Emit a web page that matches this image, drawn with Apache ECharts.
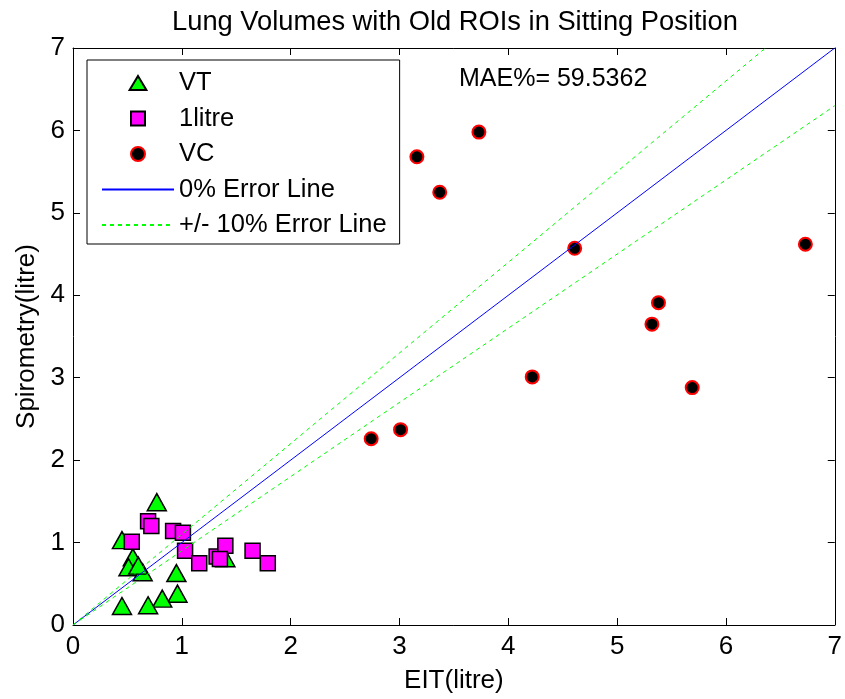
<!DOCTYPE html>
<html>
<head>
<meta charset="utf-8">
<script src="https://cdn.jsdelivr.net/npm/echarts@6/dist/echarts.min.js"></script>
<style>html,body{margin:0;padding:0;background:#fff;}#c{width:845px;height:699px;}</style>
</head>
<body>
<div id="c"></div>
<script>
const titleText = 'Lung Volumes with Old ROIs in Sitting Position';
const xName = 'EIT(litre)';
const yName = 'Spirometry(litre)';
const maeText = 'MAE%= 59.5362';

const vtData = [
  [0.77, 1.49], [0.45, 1.03], [0.55, 0.82], [0.51, 0.70], [0.64, 0.64],
  [0.60, 0.72], [0.95, 0.63], [0.96, 0.38], [0.82, 0.32], [0.69, 0.24],
  [0.45, 0.23], [1.40, 0.81]
];
const litreData = [
  [0.69, 1.26], [0.72, 1.20], [0.92, 1.14], [1.01, 1.12], [0.54, 1.01],
  [1.03, 0.90], [1.16, 0.75], [1.32, 0.83], [1.40, 0.96], [1.65, 0.90],
  [1.79, 0.75], [1.35, 0.80]
];
const vcData = [
  [3.73, 5.98], [3.16, 5.68], [3.37, 5.25], [4.61, 4.57], [5.38, 3.91],
  [5.32, 3.65], [4.22, 3.01], [5.69, 2.88], [3.01, 2.37], [2.74, 2.26],
  [6.73, 4.62]
];
const zeroLine = [[0, 0], [7, 7]];
const plus10Line = [[0, 0], [7, 7.7]];
const minus10Line = [[0, 0], [7, 6.3]];

const FONT = '"Liberation Sans", Arial, sans-serif';
const chart = echarts.init(document.getElementById('c'));

function axisBase(extra) {
  return Object.assign({
    type: 'value', min: 0, max: 7, interval: 1,
    axisLine: { show: true, onZero: false, lineStyle: { color: '#000', width: 1 } },
    axisTick: { show: true, inside: true, length: 7, lineStyle: { color: '#000' } },
    splitLine: { show: false }
  }, extra);
}

const hideDot = { color: 'rgba(0,0,0,0)', borderColor: 'rgba(0,0,0,0)', borderWidth: 0 };

chart.setOption({
  animation: false,
  backgroundColor: '#fff',
  title: {
    text: titleText, left: 450, top: 4, textAlign: 'center',
    textStyle: { fontFamily: FONT, fontSize: 27.3, fontWeight: 'normal', color: '#000' }
  },
  grid: { left: 73, right: 6, top: 48, bottom: 73, containLabel: false },
  xAxis: [
    axisBase({
      position: 'bottom', name: xName, nameLocation: 'middle', nameGap: 43,
      nameTextStyle: { fontFamily: FONT, fontSize: 26, color: '#000' },
      axisLabel: { fontFamily: FONT, fontSize: 26, color: '#000', margin: 9 }
    }),
    axisBase({ position: 'top', axisLabel: { show: false } })
  ],
  yAxis: [
    axisBase({
      position: 'left', name: yName, nameLocation: 'middle', nameGap: 30,
      nameTextStyle: { fontFamily: FONT, fontSize: 26, color: '#000' },
      axisLabel: { fontFamily: FONT, fontSize: 26, color: '#000', margin: 8 }
    }),
    axisBase({ position: 'right', axisLabel: { show: false } })
  ],
  legend: {
    orient: 'vertical', left: 87, top: 60,
    padding: [10, 13, 6, 14],
    itemWidth: 72, itemHeight: 14, itemGap: 9.5,
    borderColor: '#000', borderWidth: 1, backgroundColor: '#fff',
    symbolKeepAspect: true,
    textStyle: { fontFamily: FONT, fontSize: 25.5, color: '#000' },
    data: [
      { name: 'VT', icon: 'path://M9,0L18,15L0,15Z' },
      { name: '1litre', icon: 'path://M0,0L14,0L14,14L0,14Z' },
      { name: 'VC', icon: 'path://M0,7A7,7,0,1,1,14,7A7,7,0,1,1,0,7Z' },
      { name: '0% Error Line', itemStyle: hideDot },
      { name: '+/- 10% Error Line', itemStyle: hideDot }
    ]
  },
  graphic: [{
    type: 'text', left: 459, top: 67, z: 100,
    style: { text: maeText, fontFamily: FONT, fontSize: 25, fill: '#000' }
  }],
  series: [
    {
      name: 'VT', type: 'scatter', data: vtData, symbol: 'triangle', symbolSize: [19, 17],
      itemStyle: { color: '#00ff00', borderColor: '#000', borderWidth: 1.5, opacity: 1 }, z: 2
    },
    {
      name: '1litre', type: 'scatter', data: litreData, symbol: 'rect', symbolSize: 15,
      itemStyle: { color: '#ff00ff', borderColor: '#000', borderWidth: 1.5, opacity: 1 }, z: 3
    },
    {
      name: 'VC', type: 'scatter', data: vcData, symbol: 'circle', symbolSize: 13,
      itemStyle: { color: '#000', borderColor: '#ff0000', borderWidth: 2, opacity: 1 }, z: 4
    },
    {
      name: '0% Error Line', type: 'line', data: zeroLine, symbol: 'none', showSymbol: false,
      lineStyle: { color: '#0000ff', width: 1 }, itemStyle: { color: '#0000ff' }, z: 5, clip: true
    },
    {
      name: '+/- 10% Error Line', type: 'line', data: plus10Line, symbol: 'none', showSymbol: false,
      lineStyle: { color: '#00ff00', width: 1, type: [4, 4] }, itemStyle: { color: '#00ff00' }, z: 5, clip: true
    },
    {
      name: '+/- 10% Error Line', type: 'line', data: minus10Line, symbol: 'none', showSymbol: false,
      lineStyle: { color: '#00ff00', width: 1, type: [4, 4] }, itemStyle: { color: '#00ff00' }, z: 5, clip: true
    }
  ]
});
</script>
</body>
</html>
